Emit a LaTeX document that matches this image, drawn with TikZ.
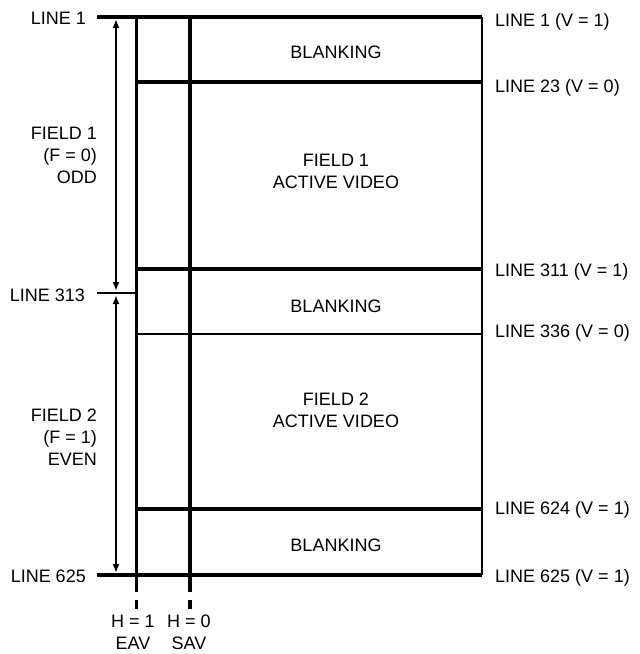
\documentclass[tikz,border=0pt]{standalone}
\usepackage{fontspec}
\setmainfont{Liberation Sans}
\usetikzlibrary{arrows.meta}
\begin{document}
\begin{tikzpicture}[x=1pt,y=-1pt,
  lbl/.style={inner sep=0pt, font=\fontsize{18}{22}\selectfont},
  thickln/.style={line width=4.5pt},
  thinln/.style={line width=2.8pt},
  dimln/.style={line width=2.6pt, -{Latex[length=9pt,width=7pt]}, shorten >=2pt}]
\useasboundingbox (0,0) rectangle (640,654);
% coordinates
\coordinate (tl) at (97,17);
\coordinate (tr) at (482,17);
\coordinate (bl) at (97,575);
\coordinate (br) at (482,575);
\coordinate (e0) at (136,17);
\coordinate (e1) at (136,592);
\coordinate (s0) at (190,17);
\coordinate (s1) at (190,592);
\coordinate (ed0) at (136,600);
\coordinate (ed1) at (136,609);
\coordinate (sd0) at (190,600);
\coordinate (sd1) at (190,609);
\coordinate (l23a) at (136,82);
\coordinate (l23b) at (482,82);
\coordinate (l311a) at (136,269);
\coordinate (l311b) at (482,269);
\coordinate (l313a) at (97,293);
\coordinate (l313b) at (136,293);
\coordinate (l336a) at (136,334);
\coordinate (l336b) at (482,334);
\coordinate (l624a) at (136,509);
\coordinate (l624b) at (482,509);
\coordinate (am) at (116,293);
\coordinate (at) at (116,17);
\coordinate (ab) at (116,575);
\coordinate (am1) at (116,155);
\coordinate (am2) at (116,435);
% lines
\draw[thickln] (tl) -- (tr);
\draw[thickln] (bl) -- (br);
\draw[thinln] (tr) -- (br);
\draw[line width=3pt] (e0) -- (e1);
\draw[line width=4.8pt] (s0) -- (s1);
\draw[line width=3pt] (ed0) -- (ed1);
\draw[line width=4pt] (sd0) -- (sd1);
\draw[thickln] (l23a) -- (l23b);
\draw[thickln] (l311a) -- (l311b);
\draw[thinln] (l313a) -- (l313b);
\draw[thinln] (l336a) -- (l336b);
\draw[thickln] (l624a) -- (l624b);
% dimension arrows
\draw[dimln] (am1) -- (at);
\draw[dimln] (am1) -- (am);
\draw[dimln] (am2) -- (am);
\draw[dimln] (am2) -- (ab);
% left labels
\node[lbl, anchor=east] (t1) at (86,18) {LINE 1};
\node[lbl, anchor=east] (t313) at (85,295) {LINE 313};
\node[lbl, anchor=east] (t625) at (86,576) {LINE 625};
\node[lbl, anchor=east, align=right] (f1) at (97,155) {FIELD 1\\(F = 0)\\ODD};
\node[lbl, anchor=east, align=right] (f2) at (97,437) {FIELD 2\\(F = 1)\\EVEN};
% right labels
\node[lbl, anchor=west] (r1) at (495,22) {LINE 1 (V = 1)};
\node[lbl, anchor=west] (r23) at (495,88) {LINE 23 (V = 0)};
\node[lbl, anchor=west] (r311) at (495,272) {LINE 311 (V = 1)};
\node[lbl, anchor=west] (r336) at (495,333) {LINE 336 (V = 0)};
\node[lbl, anchor=west] (r624) at (495,510) {LINE 624 (V = 1)};
\node[lbl, anchor=west] (r625) at (495,578) {LINE 625 (V = 1)};
% center labels
\node[lbl] (b1) at (336,52) {BLANKING};
\node[lbl, align=center] (a1) at (336,171) {FIELD 1\\ACTIVE VIDEO};
\node[lbl] (b2) at (336,306) {BLANKING};
\node[lbl, align=center] (a2) at (336,410) {FIELD 2\\ACTIVE VIDEO};
\node[lbl] (b3) at (336,545) {BLANKING};
% bottom labels
\node[lbl, align=center] (h1) at (133,632) {H = 1\\EAV};
\node[lbl, align=center] (h0) at (189,632) {H = 0\\SAV};
\end{tikzpicture}
\end{document}
